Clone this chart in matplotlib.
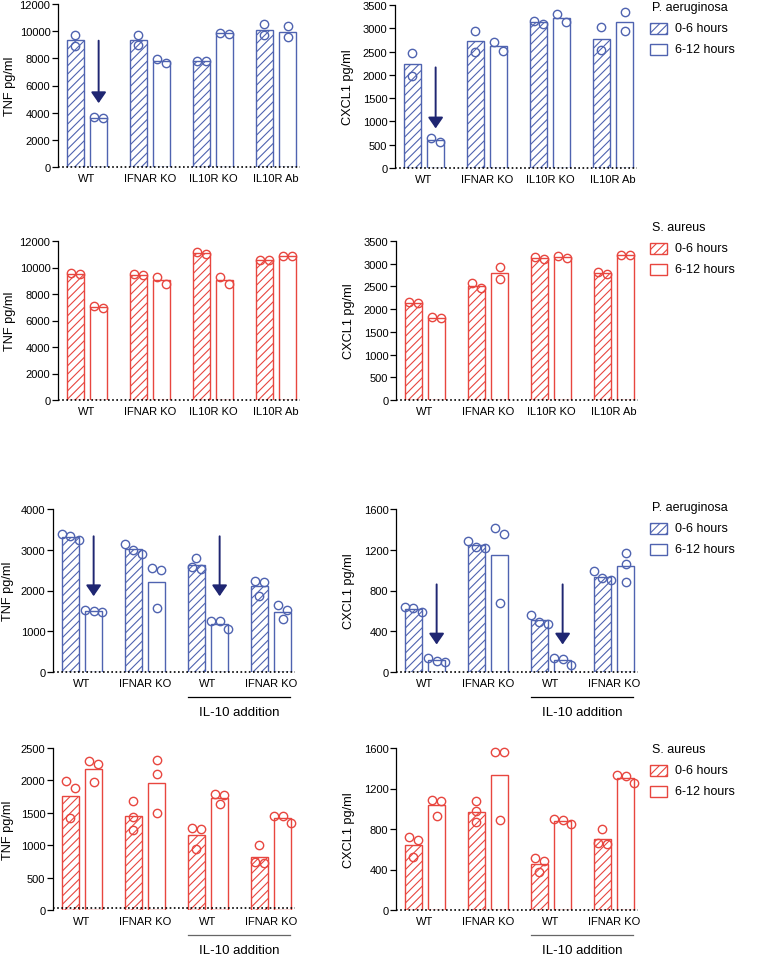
import numpy as np
import matplotlib.pyplot as plt
from matplotlib.patches import Rectangle

plt.rcParams['font.family'] = ['Liberation Sans', 'DejaVu Sans']
plt.rcParams['hatch.linewidth'] = 0.8

BLUE = '#4f63b0'
RED = '#e8463f'
NAVY = '#1f2672'

# ---------------- data ----------------
groups_a = ['WT', 'IFNAR KO', 'IL10R KO', 'IL10R Ab']
groups_b = ['WT', 'IFNAR KO', 'WT', 'IFNAR KO']

# row 1 : P. aeruginosa, knockout set
tnf_pa1_early = [[9750, 8920], [9720, 9010], [7800, 7780], [10500, 9700]]
tnf_pa1_late = [[3700, 3580], [7960, 7640], [9820, 9840], [10360, 9550]]
cxcl_pa1_early = [[2464, 1986], [2936, 2500], [3093, 3164], [3030, 2530]]
cxcl_pa1_late = [[557, 650], [2521, 2700], [3143, 3307], [3340, 2940]]

# row 2 : S. aureus, knockout set
tnf_sa1_early = [[9480, 9550], [9420, 9500], [11050, 11200], [10560, 10600]]
tnf_sa1_late = [[6980, 7080], [8760, 9280], [8760, 9280], [10840, 10880]]
cxcl_sa1_early = [[2130, 2160], [2460, 2580], [3110, 3140], [2780, 2820]]
cxcl_sa1_late = [[1800, 1820], [2930, 2660], [3130, 3160], [3190, 3200]]

# row 3 : P. aeruginosa, IL-10 addition set
tnf_pa2_early = [[3380, 3340, 3230], [3150, 3000, 2900], [2800, 2570, 2530], [2240, 2220, 1870]]
tnf_pa2_late = [[1520, 1500, 1480], [2540, 2500, 1580], [1250, 1250, 1060], [1640, 1520, 1290]]
cxcl_pa2_early = [[640, 630, 590], [1290, 1230, 1220], [560, 490, 470], [990, 920, 900]]
cxcl_pa2_late = [[140, 110, 100], [1410, 1350, 680], [140, 130, 70], [1170, 1060, 880]]

# row 4 : S. aureus, IL-10 addition set
tnf_sa2_early = [[1990, 1880, 1420], [1680, 1440, 1230], [1260, 1250, 940], [1005, 740, 720]]
tnf_sa2_late = [[2300, 2250, 1980], [2310, 2100, 1490], [1790, 1770, 1630], [1450, 1450, 1340]]
cxcl_sa2_early = [[720, 690, 520], [1075, 975, 865], [510, 480, 380], [800, 660, 650]]
cxcl_sa2_late = [[1090, 1080, 930], [1560, 1560, 890], [900, 890, 850], [1330, 1320, 1250]]

# arrows: (group, start value, end value)
arrows_tnf_pa1 = [(0, 9300, 4700)]
arrows_cxcl_pa1 = [(0, 2160, 850)]
arrows_tnf_pa2 = [(0, 3330, 1860), (2, 3330, 1860)]
arrows_cxcl_pa2 = [(0, 860, 270), (2, 860, 270)]

W, H = 758, 962
fig = plt.figure(figsize=(W / 100, H / 100), dpi=100)

GP = 63.0      # px per group
OFF = 0.185
BW = 0.26


def px_axes(l, t, r, b):
    return fig.add_axes([l / W, 1 - b / H, (r - l) / W, (b - t) / H])


def swarm(vals, d_x, px_per_unit, diam=8.5):
    vals = sorted(vals, reverse=True)
    clusters = [[vals[0]]]
    for v in vals[1:]:
        if (clusters[-1][-1] - v) * px_per_unit < diam:
            clusters[-1].append(v)
        else:
            clusters.append([v])
    out = []
    for c in clusters:
        k = len(c)
        for i, v in enumerate(c):
            out.append(((i - (k - 1) / 2) * d_x, v))
    return out


def panel(box, early, late, labels, color, ymax, ystep, ylabel, label_px,
          arrows=(), lod=0, il10=False, il10_color='black'):
    ax = px_axes(*box)
    wpx = box[2] - box[0]
    hpx = box[3] - box[1]
    xmin = -0.46
    ax.set_xlim(xmin, xmin + wpx / GP)
    ax.set_ylim(0, ymax)
    ppu = hpx / ymax
    for i in range(len(labels)):
        for vals, dx, hatch in [(early[i], -OFF, '////'), (late[i], OFF, None)]:
            ax.bar(i + dx, np.mean(vals), width=BW, facecolor='white',
                   edgecolor=color, hatch=hatch, linewidth=1.0, zorder=2)
            for ox, v in swarm(vals, 8.5 / GP, ppu):
                ax.plot(i + dx + ox, v, 'o', ms=6, mfc='none', mec=color,
                        mew=1.0, zorder=3, clip_on=False)
    for g, y0, y1 in arrows:
        ax.annotate('', xy=(g + OFF, y1), xytext=(g + OFF, y0),
                    arrowprops=dict(arrowstyle='-|>,head_length=0.55,head_width=0.38',
                                    color=NAVY, lw=1.4, shrinkA=0, shrinkB=0,
                                    mutation_scale=12))
    ax.axhline(lod, color='black', ls=(0, (1, 1.5)), lw=1.2, clip_on=False, zorder=4)
    for s in ['top', 'right', 'bottom']:
        ax.spines[s].set_visible(False)
    ax.spines['left'].set_linewidth(0.9)
    ax.set_yticks(np.arange(0, ymax + 1, ystep))
    ax.tick_params(axis='y', length=4, width=0.9, labelsize=8, pad=1.5)
    ax.set_xticks(range(len(labels)))
    ax.set_xticklabels(labels, fontsize=8)
    ax.tick_params(axis='x', length=0, pad=4)
    ax.set_ylabel(ylabel, fontsize=9.2)
    # label_px: x position (figure px) of the label's right edge
    ax.yaxis.set_label_coords((label_px - box[0]) / wpx, 0.5)
    if il10:
        tr = ax.get_xaxis_transform()
        ax.plot([2 - 0.32, 3 + 0.30], [-25 / hpx] * 2, color=il10_color, lw=0.9,
                transform=tr, clip_on=False)
        ax.text(2.5, -40 / hpx, 'IL-10 addition', transform=tr, ha='center',
                va='center', fontsize=9.5)
    return ax


def legend(title, color, ytop):
    fig.text(652 / W, 1 - ytop / H, title, fontsize=9, va='center', ha='left')
    for k, (lab, hatch) in enumerate([('0-6 hours', '////'), ('6-12 hours', None)]):
        yc = ytop + 21 * (k + 1)
        fig.add_artist(Rectangle((650 / W, 1 - (yc + 5.5) / H), 17 / W, 11 / H,
                                 transform=fig.transFigure, facecolor='white',
                                 edgecolor=color, hatch=hatch, lw=1.0))
        fig.text(675 / W, 1 - yc / H, lab, fontsize=9, va='center', ha='left')


panel((58, 5, 300, 168), tnf_pa1_early, tnf_pa1_late, groups_a, BLUE, 12000, 2000,
      'TNF pg/ml', 16, arrows=arrows_tnf_pa1)
panel((395, 6, 637, 169), cxcl_pa1_early, cxcl_pa1_late, groups_a, BLUE, 3500, 500,
      'CXCL1 pg/ml', 354, arrows=arrows_cxcl_pa1)
legend('P. aeruginosa', BLUE, 8)

panel((58, 242, 300, 401), tnf_sa1_early, tnf_sa1_late, groups_a, RED, 12000, 2000,
      'TNF pg/ml', 16)
panel((396, 242, 638, 401), cxcl_sa1_early, cxcl_sa1_late, groups_a, RED, 3500, 500,
      'CXCL1 pg/ml', 355)
legend('S. aureus', RED, 228)

panel((53, 510, 295, 673), tnf_pa2_early, tnf_pa2_late, groups_b, BLUE, 4000, 1000,
      'TNF pg/ml', 14, arrows=arrows_tnf_pa2, il10=True)
panel((396, 510, 638, 673), cxcl_pa2_early, cxcl_pa2_late, groups_b, BLUE, 1600, 400,
      'CXCL1 pg/ml', 355, arrows=arrows_cxcl_pa2, il10=True)
legend('P. aeruginosa', BLUE, 508)

panel((53, 749, 295, 911), tnf_sa2_early, tnf_sa2_late, groups_b, RED, 2500, 500,
      'TNF pg/ml', 14, lod=30, il10=True, il10_color='#666666')
panel((396, 749, 638, 911), cxcl_sa2_early, cxcl_sa2_late, groups_b, RED, 1600, 400,
      'CXCL1 pg/ml', 355, il10=True, il10_color='#666666')
legend('S. aureus', RED, 750)

fig.savefig('out.png', dpi=100)
